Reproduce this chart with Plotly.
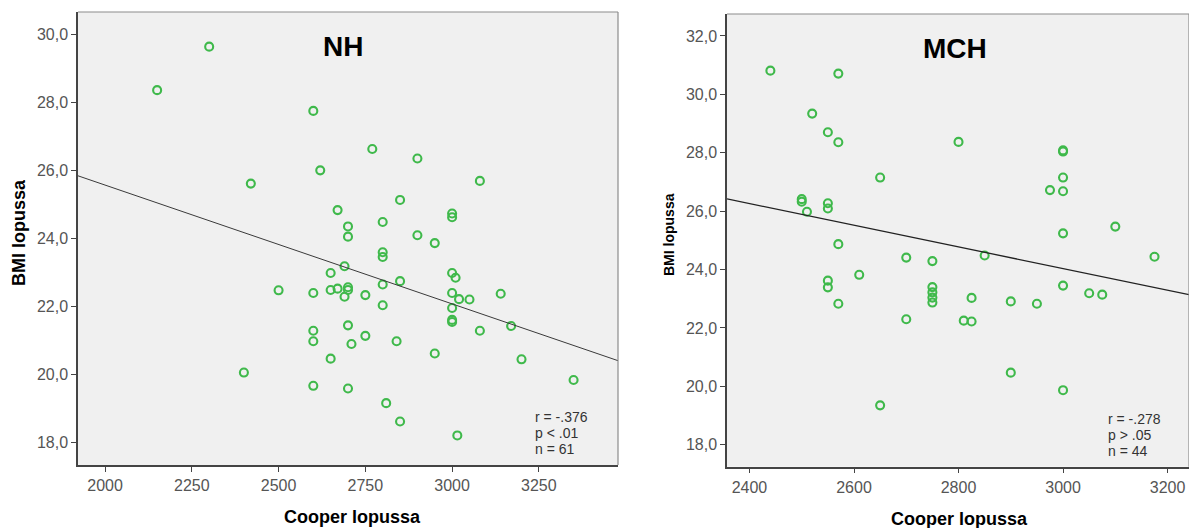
import plotly.graph_objects as go

# ---------------- data ----------------
nh_cooper = [2150, 2300, 2600, 2420, 2620, 2770, 2900, 3080, 2850, 2670,
             2700, 2700, 2800, 2900, 2950, 3000, 3000, 2800, 2800, 2690,
             2650, 3000, 3010, 2800, 2850, 2600, 2650, 2670, 2700, 2700,
             2690, 2750, 2800, 3000, 3020, 3050, 3140, 3000, 3000, 3000,
             2600, 2700, 3080, 3170, 2600, 2750, 2710, 2840, 2650, 2950,
             3200, 2600, 2700, 3350, 2810, 2850, 3015, 2500, 2400]
nh_bmi = [28.37, 29.65, 27.76, 25.62, 26.01, 26.64, 26.36, 25.70, 25.14, 24.84,
          24.36, 24.06, 24.49, 24.10, 23.87, 24.74, 24.63, 23.60, 23.46, 23.19,
          22.99, 22.99, 22.85, 22.65, 22.75, 22.40, 22.49, 22.53, 22.57, 22.49,
          22.29, 22.34, 22.04, 22.40, 22.22, 22.21, 22.38, 21.96, 21.61, 21.55,
          21.29, 21.45, 21.29, 21.43, 20.98, 21.14, 20.90, 20.98, 20.47, 20.62,
          20.45, 19.67, 19.59, 19.84, 19.16, 18.62, 18.21, 22.48, 20.06]

mch_cooper = [2440, 2570, 2520, 2550, 2570, 2650, 2500, 2500, 2510, 2550,
              2550, 2570, 2700, 2800, 3000, 3000, 3000, 2975, 3000, 3000,
              3100, 2750, 2850, 3175, 2550, 2550, 2610, 2570, 2700, 2650,
              2750, 2750, 2750, 2750, 2825, 2810, 2825, 2900, 2950, 3000,
              3050, 3075, 2900, 3000]
mch_bmi = [30.81, 30.71, 29.34, 28.70, 28.36, 27.15, 26.41, 26.32, 25.98, 26.27,
           26.09, 24.87, 24.41, 28.37, 28.08, 28.04, 27.15, 26.72, 26.68, 25.24,
           25.47, 24.29, 24.48, 24.44, 23.62, 23.39, 23.82, 22.83, 22.30, 19.35,
           23.40, 23.22, 23.04, 22.87, 23.03, 22.25, 22.22, 22.91, 22.83, 23.45,
           23.19, 23.14, 20.47, 19.87]

# regression line end points
nh_fit_x = [1922, 3478]
nh_fit_y = [25.85, 20.41]
mch_fit_x = [2357, 3241]
mch_fit_y = [26.42, 23.14]

nh_xticks = [2000, 2250, 2500, 2750, 3000, 3250]
mch_xticks = [2400, 2600, 2800, 3000, 3200]
nh_yticks = [18, 20, 22, 24, 26, 28, 30]
mch_yticks = [18, 20, 22, 24, 26, 28, 30, 32]
nh_ylabels = ["18,0", "20,0", "22,0", "24,0", "26,0", "28,0", "30,0"]
mch_ylabels = ["18,0", "20,0", "22,0", "24,0", "26,0", "28,0", "30,0", "32,0"]

nh_stats = ["r = -.376", "p < .01", "n = 61"]
mch_stats = ["r = -.278", "p > .05", "n = 44"]

# ---------------- styling ----------------
W, H = 1189, 528
FONT = "Liberation Sans, Arial, sans-serif"
GREEN = "#3fb94b"
marker = dict(symbol="circle-open", size=8, color=GREEN, line=dict(width=2.1, color=GREEN))

fig = go.Figure()
fig.add_trace(go.Scatter(x=nh_cooper, y=nh_bmi, mode="markers", marker=marker,
                         xaxis="x", yaxis="y", showlegend=False))
fig.add_trace(go.Scatter(x=nh_fit_x, y=nh_fit_y, mode="lines",
                         line=dict(color="#3a3a3a", width=1),
                         xaxis="x", yaxis="y", showlegend=False))
fig.add_trace(go.Scatter(x=mch_cooper, y=mch_bmi, mode="markers", marker=marker,
                         xaxis="x2", yaxis="y2", showlegend=False))
fig.add_trace(go.Scatter(x=mch_fit_x, y=mch_fit_y, mode="lines",
                         line=dict(color="#222222", width=1.3),
                         xaxis="x2", yaxis="y2", showlegend=False))

def px_x(p):
    return p / W

def px_y(p):
    return 1 - p / H

common_axis = dict(showgrid=False, zeroline=False, showline=True, linecolor="#444444",
                   linewidth=1.5, ticks="outside", ticklen=5, tickcolor="#444444",
                   tickwidth=1, tickfont=dict(family=FONT, size=16, color="#555555"),
                   mirror=False, fixedrange=True)

fig.update_layout(
    width=W, height=H,
    margin=dict(l=0, r=0, t=0, b=0),
    paper_bgcolor="white",
    plot_bgcolor="#f0f0f0",
    font=dict(family=FONT),
    xaxis=dict(domain=[px_x(78), px_x(618)], range=[nh_fit_x[0], nh_fit_x[1]],
               tickvals=nh_xticks, anchor="y", **common_axis),
    yaxis=dict(domain=[px_y(465), px_y(12)], range=[17.34, 30.67],
               tickvals=nh_yticks, ticktext=nh_ylabels, anchor="x", **common_axis),
    xaxis2=dict(domain=[px_x(727), 1.0], range=[mch_fit_x[0], mch_fit_x[1]],
                tickvals=mch_xticks, anchor="y2", **common_axis),
    yaxis2=dict(domain=[px_y(466.7), px_y(14)], range=[17.25, 32.75],
                tickvals=mch_yticks, ticktext=mch_ylabels, anchor="x2", **common_axis),
)

# top/right frame lines (lighter)
for xr, yr in [("x domain", "y domain"), ("x2 domain", "y2 domain")]:
    fig.add_shape(type="line", xref=xr, yref=yr, x0=0, x1=1, y0=1, y1=1,
                  line=dict(color="#8c8c8c", width=1.2))
    fig.add_shape(type="line", xref=xr, yref=yr, x0=1, x1=1, y0=0, y1=1,
                  line=dict(color="#8c8c8c", width=1.2))

def label(text, x, y, size, color="black", angle=0, xanchor="center"):
    return dict(text=text, x=px_x(x), y=px_y(y), xref="paper", yref="paper",
                xanchor=xanchor, yanchor="middle", showarrow=False, textangle=angle,
                font=dict(family=FONT, size=size, color=color))

ann = [
    label("<b>NH</b>", 343, 47, 28),
    label("<b>MCH</b>", 955, 49, 28),
    label("<b>Cooper lopussa</b>", 352, 517, 18),
    label("<b>Cooper lopussa</b>", 959, 519, 18),
    label("<b>BMI lopussa</b>", 19, 233, 18, angle=-90),
    label("<b>BMI lopussa</b>", 669, 235, 14, angle=-90),
]
for i, t in enumerate(nh_stats):
    ann.append(label(t, 533, 417 + 16 * i, 14, color="#333333", xanchor="left"))
for i, t in enumerate(mch_stats):
    ann.append(label(t, 1106, 419 + 16 * i, 14, color="#333333", xanchor="left"))
fig.update_layout(annotations=ann)

fig.write_html("out.html")
